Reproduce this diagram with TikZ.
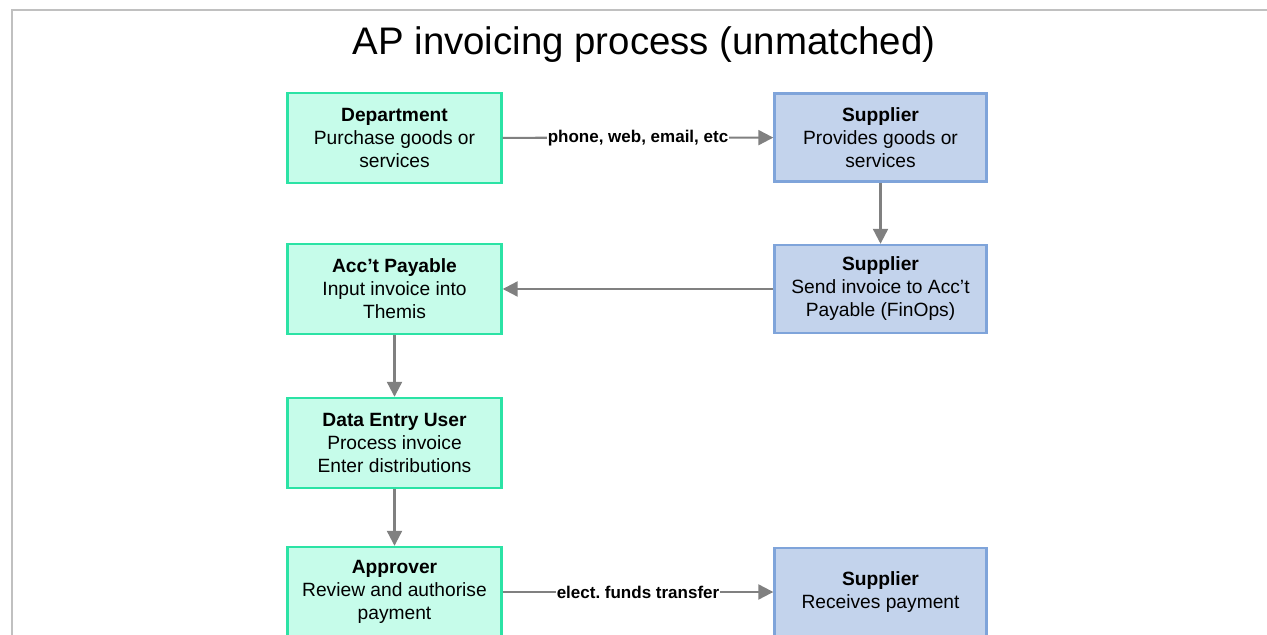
\documentclass[tikz,border=0pt]{standalone}
\usepackage{fontspec}
\setmainfont{Liberation Sans}
\usetikzlibrary{arrows.meta}
\definecolor{deptfill}{HTML}{C6FCEA}
\definecolor{deptline}{HTML}{2BE3A5}
\definecolor{supfill}{HTML}{C3D3EC}
\definecolor{supline}{HTML}{7FA4DA}
\definecolor{flowgray}{HTML}{808080}
\definecolor{framegray}{HTML}{C0C0C0}
\frenchspacing

\begin{document}
\begin{tikzpicture}[x=0.5pt,y=-0.5pt,
        internal/.style={draw=deptline,fill=deptfill,line width=1.2pt,minimum width=107pt,minimum height=45pt,inner sep=0pt,align=center,font=\fontsize{9.6}{11.5}\selectfont},
        external/.style={internal,draw=supline,fill=supfill,minimum width=106pt,minimum height=44pt},
        flow/.style={draw=flowgray,line width=1.1pt,-{Triangle[length=7.5pt,width=7.5pt]}},
        via/.style={fill=white,inner sep=0.6pt,font=\fontsize{8.5}{10}\selectfont\bfseries}]
                \clip (0,0) rectangle (1267,635);
                \draw[framegray,line width=0.9pt] (12,650) |- (1290,10);
                \node[anchor=base,font=\fontsize{19.2}{22}\selectfont] (title) at (644,55) {AP invoicing process (unmatched)};
                \node[internal] (dept) at (394.5,138) {\textbf{Department}\\Purchase goods or\\services};
                \node[external] (sup1) at (880.5,137.5) {\textbf{Supplier}\\Provides goods or\\services};
                \node[external] (sup2) at (880.5,289) {\textbf{Supplier}\\Send invoice to Acc’t\\Payable (FinOps)};
                \node[internal] (acct) at (394.5,289) {\textbf{Acc’t Payable}\\Input invoice into\\Themis};
                \node[internal] (entry) at (394.5,443) {\textbf{Data Entry User}\\Process invoice\\Enter distributions};
                \node[internal] (appr) at (394.5,592) {\textbf{Approver}\\Review and authorise\\payment};
                \node[external] (sup3) at (880.5,592) {\textbf{Supplier}\\Receives payment};
                \draw[flow] (dept) -- node[via] {phone, web, email, etc} (sup1);
                \draw[flow] (sup1) -- (sup2);
                \draw[flow] (sup2) -- (acct);
                \draw[flow] (acct) -- (entry);
                \draw[flow] (entry) -- (appr);
                \draw[flow] (appr) -- node[via] {elect. funds transfer} (sup3);
            \end{tikzpicture}
\end{document}
